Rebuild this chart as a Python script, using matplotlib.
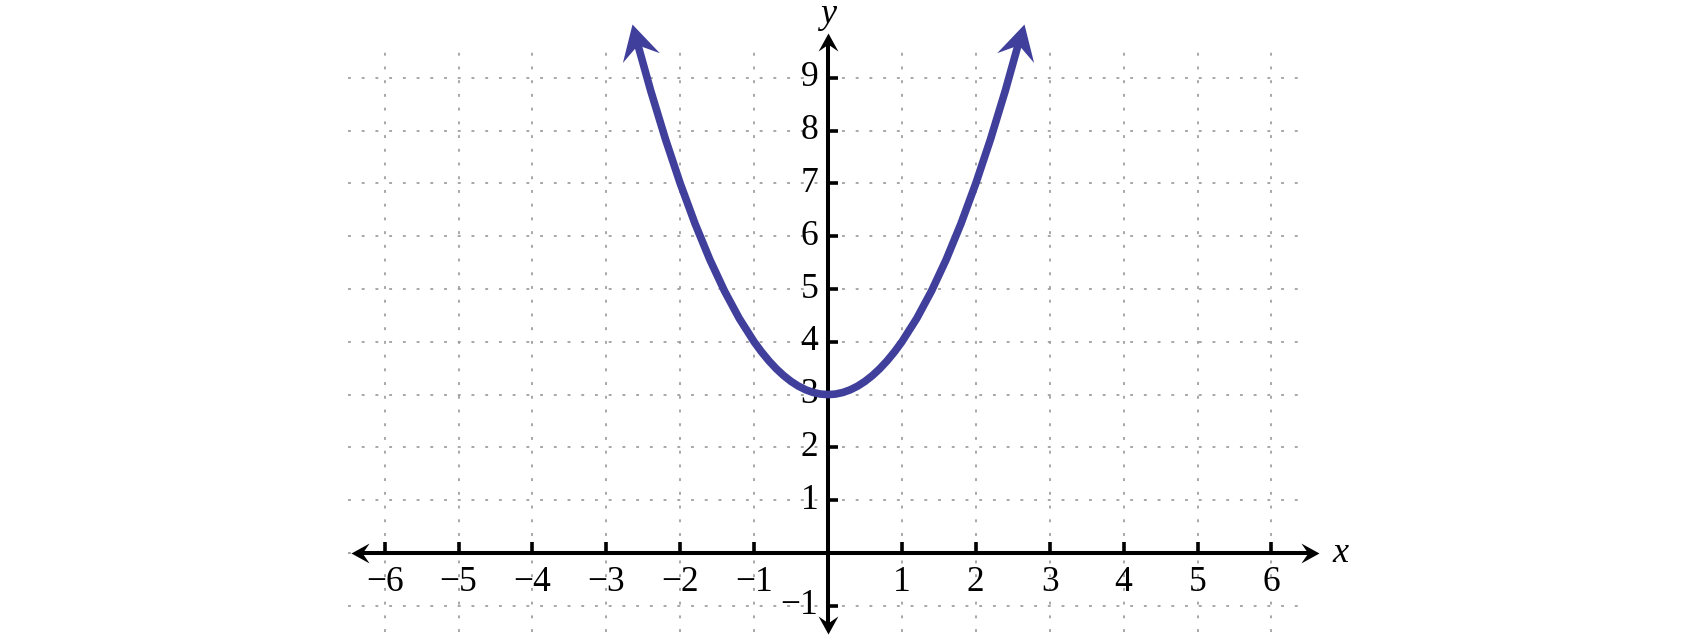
import numpy as np
import matplotlib
matplotlib.use('Agg')
import matplotlib.pyplot as plt
from matplotlib.path import Path
from matplotlib.markers import MarkerStyle
from matplotlib.transforms import Affine2D

# ==========================
# Datos
# ==========================
curva_x = [-2.6, -2.4, -2.2, -2.0, -1.8, -1.6, -1.4, -1.2, -1.0, -0.9, -0.8,
           -0.7, -0.6, -0.5, -0.4, -0.3, -0.2, -0.1, 0.0, 0.1, 0.2, 0.3, 0.4,
           0.5, 0.6, 0.7, 0.8, 0.9, 1.0, 1.2, 1.4, 1.6, 1.8, 2.0, 2.2, 2.4, 2.6]
curva_y = [9.76, 8.76, 7.84, 7.00, 6.24, 5.56, 4.96, 4.44, 4.00, 3.81, 3.64,
           3.49, 3.36, 3.25, 3.16, 3.09, 3.04, 3.01, 3.00, 3.01, 3.04, 3.09, 3.16,
           3.25, 3.36, 3.49, 3.64, 3.81, 4.00, 4.44, 4.96, 5.56, 6.24, 7.00, 7.84,
           8.76, 9.76]
puntas_x = [-2.65, 2.65]
puntas_y = [10.02, 10.02]

ticks_x = [-6, -5, -4, -3, -2, -1, 1, 2, 3, 4, 5, 6]
ticks_y = [-1, 1, 2, 3, 4, 5, 6, 7, 8, 9]
etiquetas_x = ['\u22126', '\u22125', '\u22124', '\u22123', '\u22122', '\u22121',
               '1', '2', '3', '4', '5', '6']
etiquetas_y = ['\u22121', '1', '2', '3', '4', '5', '6', '7', '8', '9']

# ==========================
# Figura
# ==========================
plt.rcParams['font.family'] = ['Liberation Serif', 'DejaVu Serif']
azul = '#40409c'
gris = '#a0a0a0'

fig = plt.figure(figsize=(17, 6.4), dpi=100)
ax = fig.add_axes([0, 0, 1, 1])
ax.axis('off')

# escala: origen en (828, 553) px, 73.9 px por unidad en x, 52.8 en y
ux, uy = 73.9, 52.8
ax.set_xlim(-828 / ux, (1700 - 828) / ux)
ax.set_ylim(-(640 - 553) / uy, 553 / uy)

# cuadrícula punteada
for gx in range(-6, 7):
    ax.plot([gx, gx], [-1.5, 9.5], color=gris, lw=1.3,
            linestyle=(0, (1.6, 6)), zorder=1)
for gy in range(-1, 10):
    ax.plot([-6.5, 6.5], [gy, gy], color=gris, lw=1.3,
            linestyle=(0, (1.6, 6)), zorder=1)

# flecha tipo "stealth"
punta = Path([(0, 0), (-1, 0.55), (-0.62, 0), (-1, -0.55), (0, 0)],
             [Path.MOVETO, Path.LINETO, Path.LINETO, Path.LINETO, Path.CLOSEPOLY])


def flecha(x, y, angulo, color, ms):
    m = MarkerStyle(punta, transform=Affine2D().rotate_deg(angulo))
    ax.plot([x], [y], marker=m, markersize=ms, color=color,
            markeredgewidth=0, linestyle='none', zorder=5)


# ejes
ax.plot([-6.35, 6.55], [0, 0], color='black', lw=2.9, zorder=3,
        solid_capstyle='butt')
ax.plot([0, 0], [-1.45, 9.75], color='black', lw=2.9, zorder=3,
        solid_capstyle='butt')
flecha(-6.45, 0, 180, 'black', 26)
flecha(6.65, 0, 0, 'black', 26)
flecha(0, 9.85, 90, 'black', 26)
flecha(0, -1.53, 270, 'black', 26)

# marcas de los ejes
for tx, lab in zip(ticks_x, etiquetas_x):
    ax.plot([tx, tx], [0, 0.2], color='black', lw=2.6, zorder=3,
            solid_capstyle='butt')
    ax.text(tx, -0.56, lab, ha='center', va='center', fontsize=25.5)
for ty, lab in zip(ticks_y, etiquetas_y):
    ax.plot([0, 0.14], [ty, ty], color='black', lw=2.6, zorder=3,
            solid_capstyle='butt')
    ax.annotate(lab, xy=(0, ty), xytext=(-7, 0), textcoords='offset points',
                ha='right', va='center', fontsize=25.5)

ax.text(6.93, 0.0, 'x', ha='center', va='center', fontsize=26, style='italic')
ax.text(0.0, 10.2, 'y', ha='center', va='center', fontsize=26, style='italic')

# parábola
ax.plot(curva_x, curva_y, color=azul, lw=5.5, zorder=4, solid_capstyle='butt',
        solid_joinstyle='round')
for px_, py_, sx in zip(puntas_x, puntas_y, [-1, 1]):
    p0 = ax.transData.transform((px_ - sx * 0.15, py_ - 0.15 * 2 * abs(px_)))
    p1 = ax.transData.transform((px_, py_))
    ang = np.degrees(np.arctan2(p1[1] - p0[1], p1[0] - p0[0]))
    flecha(px_, py_, ang, azul, 50)

fig.savefig('out.png', dpi=100)
